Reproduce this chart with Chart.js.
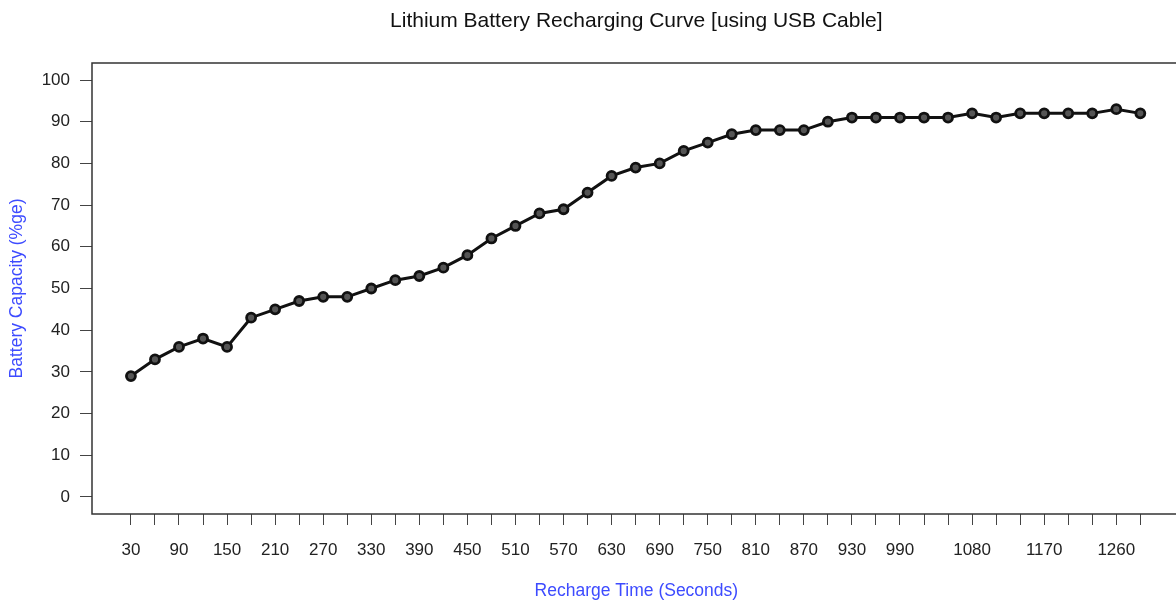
<!DOCTYPE html>
<html>
<head>
<meta charset="utf-8">
<script src="https://cdn.jsdelivr.net/npm/chart.js@4/dist/chart.umd.min.js"></script>
<style>
  html, body { margin: 0; padding: 0; background: #ffffff; overflow: hidden; }
  #wrap { width: 1188px; height: 602px; }
</style>
</head>
<body>
<div id="wrap"><canvas id="batteryChart" width="1188" height="602"></canvas></div>
<script>
// recharge time in seconds, one reading every 30 s
var rechargeTime = [30, 60, 90, 120, 150, 180, 210, 240, 270, 300,
    330, 360, 390, 420, 450, 480, 510, 540, 570, 600,
    630, 660, 690, 720, 750, 780, 810, 840, 870, 900,
    930, 960, 990, 1020, 1050, 1080, 1110, 1140, 1170, 1200,
    1230, 1260, 1290];
// battery capacity in percent
var batteryCapacity = [29, 33, 36, 38, 36, 43, 45, 47, 48, 48,
    50, 52, 53, 55, 58, 62, 65, 68, 69, 73,
    77, 79, 80, 83, 85, 87, 88, 88, 88, 90,
    91, 91, 91, 91, 91, 92, 91, 92, 92, 92,
    92, 93, 92];
// labels printed under the x axis (the rest only get a tick mark)
var xTickLabels = [30, 90, 150, 210, 270, 330, 390, 450, 510, 570,
    630, 690, 750, 810, 870, 930, 990, 1080, 1170, 1260];
var yTickValues = [0, 10, 20, 30, 40, 50, 60, 70, 80, 90, 100];

var points = rechargeTime.map((t, i) => ({ x: t, y: batteryCapacity[i] }));

Chart.defaults.font.family = '"Liberation Sans", Arial, Helvetica, sans-serif';
Chart.defaults.color = '#222222';

// R style box round the plot region
var plotBox = {
    id: 'plotBox',
    afterDraw: (chart) => {
        var a = chart.chartArea;
        var c = chart.ctx;
        c.save();
        c.strokeStyle = '#333333';
        c.lineWidth = 1.5;
        c.strokeRect(a.left, a.top, a.right - a.left, a.bottom - a.top);
        c.restore();
    }
};

var ctx = document.getElementById('batteryChart').getContext('2d');
var batteryChart = new Chart(ctx, {
    type: 'line',
    data: {
        datasets: [{
            label: 'Battery Capacity',
            data: points,
            borderColor: '#111111',
            borderWidth: 3,
            tension: 0,
            pointRadius: 4.5,
            pointBorderWidth: 2.8,
            pointBorderColor: '#111111',
            pointBackgroundColor: '#555555',
            fill: false,
        }],
    },
    options: {
        responsive: false,
        animation: false,
        layout: {
            padding: { top: 0, right: 6, bottom: 0, left: 0 }
        },
        plugins: {
            legend: { display: false },
            tooltip: { enabled: false },
            title: {
                display: true,
                fullSize: false,
                text: 'Lithium Battery Recharging Curve [using USB Cable]',
                color: '#111111',
                font: { size: 21, weight: 'normal' },
                padding: { top: 8.4, bottom: 29.4 },
            }
        },
        scales: {
            x: {
                type: 'linear',
                min: -18.6,
                max: 1340.4,
                afterBuildTicks: (scale) => {
                    scale.ticks = rechargeTime.map((v) => ({ value: v }));
                },
                afterFit: (scale) => { scale.height = 88; },
                ticks: {
                    autoSkip: false,
                    maxRotation: 0,
                    minRotation: 0,
                    padding: 15,
                    font: { size: 17 },
                    callback: (value) => xTickLabels.includes(value) ? String(value) : '',
                },
                grid: {
                    drawOnChartArea: false,
                    drawTicks: true,
                    tickLength: 11,
                    tickColor: '#444444',
                },
                border: { display: false },
                title: {
                    display: true,
                    text: 'Recharge Time (Seconds)',
                    color: '#3d4bff',
                    font: { size: 17.5 },
                    padding: { top: 0, bottom: 0.5 },
                }
            },
            y: {
                type: 'linear',
                min: -4.08,
                max: 104.08,
                afterBuildTicks: (scale) => {
                    scale.ticks = yTickValues.map((v) => ({ value: v }));
                },
                afterFit: (scale) => { scale.width = 92; },
                ticks: {
                    padding: 10,
                    font: { size: 17 },
                },
                grid: {
                    drawOnChartArea: false,
                    drawTicks: true,
                    tickLength: 12,
                    tickColor: '#444444',
                },
                border: { display: false },
                title: {
                    display: true,
                    text: 'Battery Capacity (%ge)',
                    color: '#3d4bff',
                    font: { size: 17.5 },
                    padding: { top: 6.5, bottom: 0 },
                }
            }
        }
    },
    plugins: [plotBox]
});
</script>
</body>
</html>
